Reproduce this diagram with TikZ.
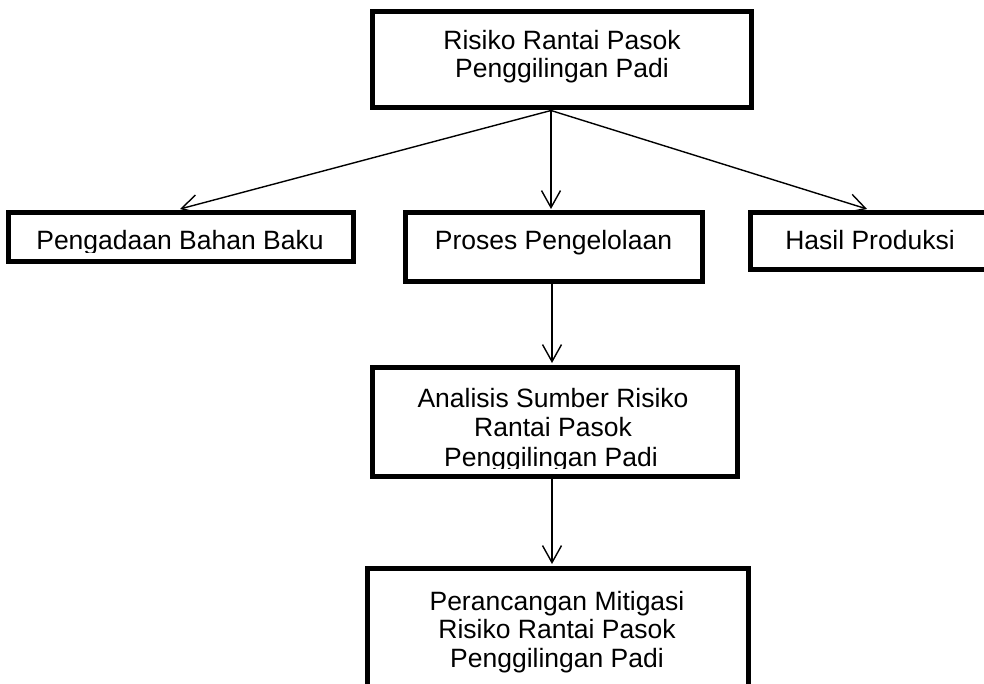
\documentclass[tikz,border=0pt]{standalone}
\usepackage{fontspec}
\setmainfont{Liberation Sans}
\usetikzlibrary{arrows.meta}
\begin{document}
\begin{tikzpicture}[x=1pt,y=-1pt,
  box/.style={draw=black, line width=5pt, rectangle, inner sep=0pt, fill=white},
  txt/.style={inner sep=0pt, anchor=base, font=\fontsize{26.5}{29}\selectfont},
  arr/.style={line width=1.4pt, -{Straight Barb[length=17pt,width=19pt,line width=1.4pt]}}]
\clip (0,0) rectangle (984,684);
\fill[white] (0,0) rectangle (984,684);
% boxes
\node[box, minimum width=379pt, minimum height=96pt] (top) at (561.5,60) {};
\node[box, minimum width=345pt, minimum height=49pt] (peng) at (180.5,237.5) {};
\node[box, minimum width=297pt, minimum height=69pt] (proses) at (553.5,247.5) {};
\node[box, minimum width=300pt, minimum height=57pt] (hasil) at (900,241.5) {};
\node[box, minimum width=365pt, minimum height=109pt] (anal) at (554.5,421.5) {};
\node[box, minimum width=381pt, minimum height=142pt] (peran) at (557.5,639) {};
% texts
\node[txt] (t1a) at (562,50) {Risiko Rantai Pasok};
\node[txt] (t1b) at (562,78) {Penggilingan Padi};
\begin{scope}
\clip (8,213) rectangle (353,252.5);
\node[txt] (t2) at (180,250) {Pengadaan Bahan Baku};
\end{scope}
\node[txt] (t3) at (553.5,250) {Proses Pengelolaan};
\node[txt] (t4) at (870,250) {Hasil Produksi};
\begin{scope}
\clip (372,367) rectangle (737,468);
\node[txt] (t5a) at (553,407) {Analisis Sumber Risiko};
\node[txt] (t5b) at (553,436.5) {Rantai Pasok};
\node[txt] (t5c) at (551,466) {Penggilingan Padi};
\end{scope}
\node[txt] (t6a) at (557,610) {Perancangan Mitigasi};
\node[txt] (t6b) at (557,638.5) {Risiko Rantai Pasok};
\node[txt] (t6c) at (557,667) {Penggilingan Padi};
% connectors
\coordinate (ht) at ([xshift=-33pt,yshift=1.5pt]hasil.north);
\draw[arr] ([xshift=-10.5pt]top.south) -- ([xshift=-0.5pt,yshift=1.5pt]peng.north);
\draw[arr] ([xshift=-10.5pt]top.south) -- ([xshift=-2.5pt,yshift=1.5pt]proses.north);
\draw[arr] ([xshift=-10.5pt]top.south) -- (ht);
\draw[arr] ([xshift=-1.5pt]proses.south) -- ([xshift=-2.5pt,yshift=1.5pt]anal.north);
\draw[arr] ([xshift=-2.5pt]anal.south) -- ([xshift=-5.5pt,yshift=1.5pt]peran.north);
\end{tikzpicture}
\end{document}
